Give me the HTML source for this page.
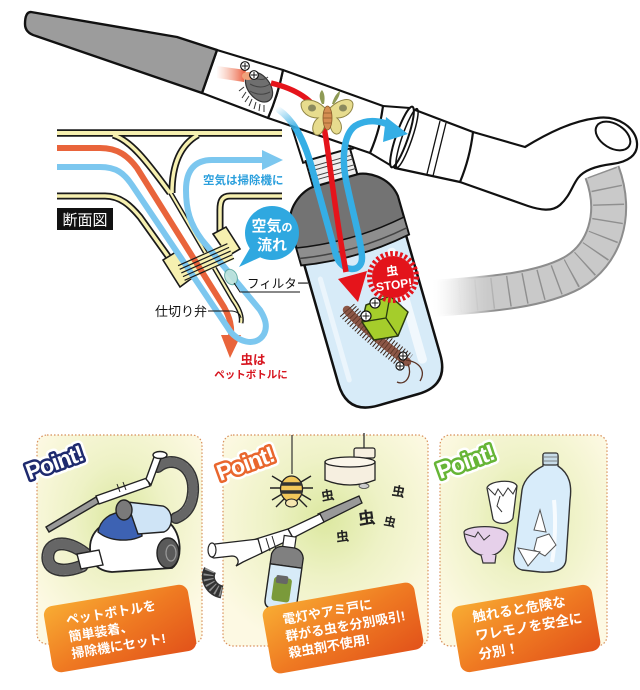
<!DOCTYPE html>
<html><head><meta charset="utf-8"><style>
html,body{margin:0;padding:0;background:#fff;width:640px;height:690px;overflow:hidden}
svg{display:block}
text{font-family:"Liberation Sans","Noto Sans CJK JP",sans-serif}
</style></head><body>
<svg width="640" height="690" viewBox="0 0 640 690" xmlns="http://www.w3.org/2000/svg">
<defs>
<linearGradient id="hoseE" gradientUnits="userSpaceOnUse" x1="430" y1="0" x2="495" y2="0"><stop offset="0" stop-color="#fff" stop-opacity="0"/><stop offset="1" stop-color="#8d8d8d"/></linearGradient>
<linearGradient id="hoseG" gradientUnits="userSpaceOnUse" x1="430" y1="0" x2="495" y2="0"><stop offset="0" stop-color="#fff" stop-opacity="0"/><stop offset="1" stop-color="#c9c9c9"/></linearGradient>
<linearGradient id="hoseR" gradientUnits="userSpaceOnUse" x1="440" y1="0" x2="510" y2="0"><stop offset="0" stop-color="#fff" stop-opacity="0"/><stop offset="1" stop-color="#8f8f8f"/></linearGradient>
<linearGradient id="blueFade" gradientUnits="userSpaceOnUse" x1="279" y1="106" x2="293" y2="132"><stop offset="0" stop-color="#35aee5" stop-opacity="0"/><stop offset="1" stop-color="#35aee5"/></linearGradient>
<linearGradient id="redFade" gradientUnits="userSpaceOnUse" x1="216" y1="0" x2="246" y2="0"><stop offset="0" stop-color="#f39a7a" stop-opacity="0"/><stop offset="1" stop-color="#ea5a3c"/></linearGradient>
<radialGradient id="pbg" cx="0.5" cy="0.4" r="0.62"><stop offset="0" stop-color="#dce8a0"/><stop offset="0.45" stop-color="#eef2c6"/><stop offset="1" stop-color="#fdf9e3"/></radialGradient>
<linearGradient id="lab" x1="0" y1="0" x2="1" y2="1"><stop offset="0" stop-color="#f8ac33"/><stop offset="0.5" stop-color="#ef7a22"/><stop offset="1" stop-color="#e2521a"/></linearGradient>
</defs>

<!-- ============ TOP ILLUSTRATION ============ -->
<!-- hose -->
<path d="M602,172 C618,215 604,255 572,273 C542,289 500,294 425,299" fill="none" stroke="url(#hoseE)" stroke-width="37"/>
<path d="M602,172 C618,215 604,255 572,273 C542,289 500,294 425,299" fill="none" stroke="url(#hoseG)" stroke-width="33"/>
<path d="M602,172 C618,215 604,255 572,273 C542,289 500,294 425,299" fill="none" stroke="url(#hoseR)" stroke-width="31" stroke-dasharray="1.4 15"/>

<!-- grip -->
<path d="M473,132 L525,147 C548,133 572,121 597,118 C618,115 636,128 637,143 C638,155 628,162 612,164 C596,166 584,170 578,178 C572,186 570,196 560,205 C552,212 540,210 528,206 L460,182 Z" fill="#fff" stroke="#111" stroke-width="2.2" stroke-linejoin="round"/>
<ellipse cx="613" cy="136" rx="19" ry="12" transform="rotate(32 613 136)" fill="#fff" stroke="#111" stroke-width="2"/>
<!-- seg2b -->
<path d="M410,108 L473,132 Q470,158 460,182 L395,168 Z" fill="#fff" stroke="#111" stroke-width="2.2" stroke-linejoin="round"/>
<path d="M440,121 L427,174 M446,123 L433,176" stroke="#111" stroke-width="1.3"/>
<!-- seg between -->
<path d="M383,106 L410,108 L395,168 L370,153 Z" fill="#fff" stroke="#111" stroke-width="2" stroke-linejoin="round"/>
<ellipse cx="402" cy="137" rx="6" ry="32" transform="rotate(19 402 137)" fill="#fff" stroke="#111" stroke-width="2"/>
<ellipse cx="407" cy="138" rx="5" ry="31" transform="rotate(19 407 138)" fill="none" stroke="#111" stroke-width="1.5"/>

<!-- bottle connector (under tube) -->
<g transform="translate(354,246) rotate(-16)">
<path d="M-27,-130 L27,-130 L26,-94 L-26,-94 Z" fill="#fff" stroke="#111" stroke-width="2"/>
</g>

<!-- tube segments -->
<path d="M283,70 L383,106 Q380,130 370,153 L268,118 Q278,95 283,70 Z" fill="#fff" stroke="#111" stroke-width="2.2" stroke-linejoin="round"/>
<path d="M217,50 L283,70 Q278,95 268,118 L202,93 Z" fill="#fff" stroke="#111" stroke-width="2.2" stroke-linejoin="round"/>
<!-- nozzle -->
<path d="M31,12 L177,37 L217,50 L202,93 L36,36 Q25,33 25,24 Q25,12 31,12 Z" fill="#9c9c9c" stroke="#111" stroke-width="2.4" stroke-linejoin="round"/>

<!-- bottle -->
<g transform="translate(354,246) rotate(-16)">
<rect x="-23" y="-95" width="46" height="28" fill="#efefef" stroke="#111" stroke-width="2"/>
<path d="M-23,-88 H23 M-23,-84 H23 M-23,-78 H23 M-23,-74 H23" stroke="#444" stroke-width="1"/>
<path d="M-53,0 L53,0 L53,128 Q53,160 21,160 L-21,160 Q-53,160 -53,128 Z" fill="#d7ebf8" stroke="#111" stroke-width="2.5"/>
<rect x="30" y="12" width="9" height="120" rx="4" fill="#fff" opacity="0.65"/>
<rect x="-44" y="20" width="5" height="110" rx="2.5" fill="#fff" opacity="0.5"/>
<path d="M-56,4 L-56,-36 C-53,-58 -32,-68 -23,-68 L23,-68 C32,-68 53,-58 56,-36 L56,4 Q0,14 -56,4 Z" fill="#737373" stroke="#111" stroke-width="2.2"/>
<path d="M-56,-14 Q0,-4 56,-14 L56,4 Q0,14 -56,4 Z" fill="#8e8e8e" stroke="#111" stroke-width="1.5"/>
<path d="M-56,-3 Q0,7 56,-3" fill="none" stroke="#444" stroke-width="1.5"/>
</g>

<!-- centipede -->
<path d="M347,310 C360,325 385,345 407,362" fill="none" stroke="#3b2418" stroke-width="19" stroke-dasharray="1 2.3"/>
<path d="M347,310 C360,325 385,345 407,362" fill="none" stroke="#8b5646" stroke-width="8.5" stroke-linecap="round"/>
<path d="M347,310 C360,325 385,345 407,362" fill="none" stroke="#5a3426" stroke-width="8.5" stroke-dasharray="0.8 3"/>
<path d="M406,360 C420,362 426,371 420,381 M408,364 C413,376 405,386 397,382" fill="none" stroke="#5a3426" stroke-width="1.3"/>
<circle cx="403" cy="356" r="4" fill="#fff" stroke="#111" stroke-width="1.2"/><path d="M400,356 H406 M403,353 V359" stroke="#111" stroke-width="1"/>
<circle cx="400" cy="366" r="4" fill="#fff" stroke="#111" stroke-width="1.2"/><path d="M397,366 H403 M400,363 V369" stroke="#111" stroke-width="1"/>
<!-- green cube -->
<path d="M366,305 L390,296 L408,312 L398,336 L374,340 L362,322 Z" fill="#a5cd2b" stroke="#2a3a10" stroke-width="1.5" stroke-linejoin="round"/>
<path d="M390,296 L386,318 L398,336 M386,318 L362,322" fill="none" stroke="#2a3a10" stroke-width="1.3"/>
<path d="M382,297 l3,-7 l2,6 l3,-8 l2,8 l3,-6 l1,7" fill="#5e8a1e"/>
<circle cx="375" cy="303" r="5" fill="#fff" stroke="#111" stroke-width="1.2"/><path d="M371.5,303 H378.5 M375,299.5 V306.5" stroke="#111" stroke-width="1"/>
<circle cx="366" cy="316" r="5" fill="#fff" stroke="#111" stroke-width="1.2"/><path d="M362.5,316 H369.5 M366,312.5 V319.5" stroke="#111" stroke-width="1"/>

<!-- red streak + pill bug -->
<path d="M217,66 L246,70 L244,82 L217,78 Z" fill="url(#redFade)"/>
<path d="M246,92 l-4,6 M249,96 l-4,6 M252,99 l-3,7 M256,102 l-2,7 M260,104 l-1,7 M264,105 l0,7 M244,87 l-5,4" stroke="#333" stroke-width="1"/>
<ellipse cx="259" cy="87" rx="11" ry="17" transform="rotate(-38 259 87)" fill="#6f6f6f" stroke="#333" stroke-width="1.2"/>
<path d="M252,77 Q262,82 268,77 M250,84 Q261,90 270,84 M250,91 Q260,97 270,92" fill="none" stroke="#444" stroke-width="1"/>
<ellipse cx="248" cy="76" rx="6" ry="4" fill="#f0a27a"/>
<circle cx="245" cy="66" r="4.3" fill="#fff" stroke="#111" stroke-width="1.2"/><path d="M242,66 H248 M245,63 V69" stroke="#111" stroke-width="1"/>
<circle cx="254" cy="75" r="4.3" fill="#fff" stroke="#111" stroke-width="1.2"/><path d="M251,75 H257 M254,72 V78" stroke="#111" stroke-width="1"/>

<!-- blue loop -->
<path d="M279,110 C296,122 306,145 313,172 L336,255 C341,272 362,274 362,258 C362,245 352,210 346,180 C342,160 343,135 355,126 C368,118 383,121 393,127" fill="none" stroke="url(#blueFade)" stroke-width="6.5" stroke-linecap="round"/>
<path d="M386,117 L408,134 L383,142 Z" fill="#35aee5"/>
<!-- red arrow -->
<path d="M271,83 C292,88 312,98 321,116 C328,136 331,190 346,272" fill="none" stroke="#e5141b" stroke-width="5.5"/>
<path d="M338,279 L367,271 L358,302 Z" fill="#e5141b"/>

<!-- moth -->
<path d="M322,104 C318,96 320,92 322,90 C325,94 325,99 324,104 Z M332,104 C334,96 338,92 340,91 C340,96 337,100 334,104 Z" fill="#8e9a55"/>
<path d="M325,108 C315,98 302,98 301,104 C301,112 308,118 318,118 C310,124 312,136 318,135 C323,134 325,126 326,120 Z" fill="#e7dc8e" stroke="#8f8444" stroke-width="1"/>
<path d="M330,108 C340,98 352,97 353,104 C353,112 346,118 337,118 C344,124 342,135 336,134 C331,133 330,126 329,120 Z" fill="#e7dc8e" stroke="#8f8444" stroke-width="1"/>
<ellipse cx="312" cy="108" rx="4" ry="3.5" fill="#8b8a5e"/><ellipse cx="343" cy="108" rx="4" ry="3.5" fill="#8b8a5e"/>
<ellipse cx="327.5" cy="118" rx="4.5" ry="12" fill="#d58e52" stroke="#8a5a2a" stroke-width="0.8"/>
<path d="M323.5,113 H331.5 M323.5,118 H331.5 M324,123 H331" stroke="#8a5a2a" stroke-width="0.8"/>

<!-- starburst -->
<circle cx="393" cy="277" r="21" fill="#e3131b"/>
<circle cx="393" cy="277" r="23.5" fill="none" stroke="#e3131b" stroke-width="5" stroke-dasharray="2.6 2.3"/>
<g transform="rotate(-8 393 277)">
<text x="393" y="275" text-anchor="middle" font-size="12" font-weight="bold" fill="#fff">虫</text>
<text x="393" y="289" text-anchor="middle" font-size="12" font-weight="bold" fill="#fff">STOP!</text>
</g>

<!-- ===== cross-section ===== -->
<g fill="none" stroke-linecap="butt" stroke-linejoin="round">
<path d="M57,133 L282,133" stroke="#1a1a1a" stroke-width="7.5"/>
<path d="M113,135 C130,140 146,160 170,193" stroke="#1a1a1a" stroke-width="7"/>
<path d="M198,135 C180,145 172,165 172,193" stroke="#1a1a1a" stroke-width="7"/>
<path d="M170,192 L233,300 Q243,314 241,323" stroke="#1a1a1a" stroke-width="5"/>
<path d="M57,196 L105,196 C120,196 130,205 140,217 L170,259" stroke="#1a1a1a" stroke-width="7"/>
<path d="M282,196 L230,196 C222,196 220,201 220,210 L220,232" stroke="#1a1a1a" stroke-width="7"/>
<path d="M57,133 L282,133" stroke="#f6f0b0" stroke-width="4"/>
<path d="M113,135 C130,140 146,160 170,193" stroke="#f6f0b0" stroke-width="3.5"/>
<path d="M198,135 C180,145 172,165 172,193" stroke="#f6f0b0" stroke-width="3.5"/>
<path d="M170,192 L233,300 Q243,314 241,323" stroke="#f6f0b0" stroke-width="2.2"/>
<path d="M57,196 L105,196 C120,196 130,205 140,217 L170,259" stroke="#f6f0b0" stroke-width="3.5"/>
<path d="M282,196 L230,196 C222,196 220,201 220,210 L220,232" stroke="#f6f0b0" stroke-width="3.5"/>
</g>
<path d="M163,260 L176,252 L192,278 L180,287 Z" fill="#f6f0b0" stroke="#1a1a1a" stroke-width="1.6"/>
<path d="M213,234 L226,227 L240,249 L228,256 Z" fill="#f6f0b0" stroke="#1a1a1a" stroke-width="1.6"/>
<g transform="translate(206,262) rotate(-24)"><rect x="-27" y="-9" width="54" height="18" fill="#f6f0b0"/></g>

<!-- flows -->
<path d="M57,148 L100,148 C118,148 128,156 137,168 L224,307 C230,318 232,326 231,338" fill="none" stroke="#e9643b" stroke-width="6"/>
<path d="M221,335 L241,335 L230,358 Z" fill="#e9643b"/>
<path d="M57,167 L100,167 C116,167 124,173 132,185 L228,328 C236,342 256,348 264,334 C268,326 265,318 260,310 L202,240 C190,224 186,210 186,190 C186,170 195,160 212,160 L265,160" fill="none" stroke="#7cc7ef" stroke-width="6"/>
<path d="M262,150 L283,160 L262,170 Z" fill="#7cc7ef"/>

<g transform="translate(206,262) rotate(-24)" stroke="#1a1a1a" stroke-width="1.2">
<path d="M-27,-8 H27 M-27,-4 H27 M-27,0 H27 M-27,4 H27 M-27,8 H27"/>
</g>
<ellipse cx="231" cy="277" rx="6" ry="8" transform="rotate(-25 231 277)" fill="#bfe3dc" stroke="#5aa8a0" stroke-width="1" opacity="0.9"/>
<path d="M234,283 L240,292 L300,292" fill="none" stroke="#111" stroke-width="1"/>
<path d="M208,311 L232,311 Q240,312 241,318" fill="none" stroke="#111" stroke-width="1"/>

<!-- labels -->
<text x="203" y="184" font-size="11.5" font-weight="bold" fill="#2b9fdc">空気は掃除機に</text>
<rect x="57" y="208" width="56" height="22" fill="#111"/>
<text x="85" y="225" text-anchor="middle" font-size="15" fill="#fff">断面図</text>
<text x="247" y="288" font-size="12.5" fill="#111">フィルター</text>
<text x="155" y="316" font-size="13" fill="#111">仕切り弁</text>
<text x="253" y="364" text-anchor="middle" font-size="12.5" font-weight="bold" fill="#d7151f">虫は</text>
<text x="251" y="378" text-anchor="middle" font-size="10.5" font-weight="bold" fill="#d7151f">ペットボトルに</text>

<!-- bubble -->
<circle cx="272" cy="233" r="27" fill="#2fa8e0"/>
<path d="M250,248 L239,267 L263,256 Z" fill="#2fa8e0"/>
<text x="272" y="231" text-anchor="middle" font-size="15" font-weight="bold" fill="#fff">空気<tspan font-size="11">の</tspan></text>
<text x="272" y="250" text-anchor="middle" font-size="15" font-weight="bold" fill="#fff">流れ</text>

<!-- ============ PANELS ============ -->
<rect x="37" y="435" width="165" height="209" rx="10" fill="url(#pbg)" stroke="#d88f5a" stroke-width="1.2" stroke-dasharray="1.5 2"/>
<rect x="223" y="435" width="205" height="211" rx="10" fill="url(#pbg)" stroke="#d88f5a" stroke-width="1.2" stroke-dasharray="1.5 2"/>
<rect x="440" y="435" width="167" height="211" rx="10" fill="url(#pbg)" stroke="#d88f5a" stroke-width="1.2" stroke-dasharray="1.5 2"/>

<!-- panel 1 vacuum -->
<g stroke-linecap="round" fill="none">
<path d="M158,467 C172,455 195,465 193,492 C192,506 186,514 176,518" stroke="#333" stroke-width="12"/>
<path d="M158,467 C172,455 195,465 193,492 C192,506 186,514 176,518" stroke="#8f8f8f" stroke-width="9"/>
<path d="M158,467 C172,455 195,465 193,492 C192,506 186,514 176,518" stroke="#666" stroke-width="9" stroke-dasharray="1.2 4"/>
<path d="M88,556 C70,540 50,540 48,555 C46,570 62,574 82,566" stroke="#333" stroke-width="13"/>
<path d="M88,556 C70,540 50,540 48,555 C46,570 62,574 82,566" stroke="#8f8f8f" stroke-width="10"/>
<path d="M88,556 C70,540 50,540 48,555 C46,570 62,574 82,566" stroke="#666" stroke-width="10" stroke-dasharray="1.2 4"/>
</g>
<path d="M90,548 C90,528 110,516 135,516 L165,520 C182,528 184,560 172,568 L112,572 C97,571 90,562 90,548 Z" fill="#fff" stroke="#222" stroke-width="1.8"/>
<path d="M98,532 C100,520 110,512 124,512 L140,514 L142,536 C130,542 110,542 98,532 Z" fill="#3d62b3" stroke="#222" stroke-width="1.4"/>
<path d="M127,502 L163,506 C174,510 174,528 164,532 L138,534 Z" fill="#cfe4f6" stroke="#222" stroke-width="1.4"/>
<ellipse cx="124" cy="510" rx="8" ry="10" fill="#7a7a7a" stroke="#222" stroke-width="1.4"/>
<ellipse cx="168" cy="553" rx="11" ry="15" fill="#5a5a5a" stroke="#222" stroke-width="1.4"/>
<ellipse cx="171" cy="553" rx="5" ry="8" fill="none" stroke="#999" stroke-width="1.2"/>
<path d="M77,554 L99,550 L103,565 L81,569 Z" fill="#fff" stroke="#222" stroke-width="1.4"/>
<path d="M46,527 L96,497 L99,503 L49,532 Z" fill="#999" stroke="#222" stroke-width="1.4"/>
<path d="M96,496 L147,478 L150,486 L99,504 Z" fill="#fff" stroke="#222" stroke-width="1.4"/>
<path d="M146,479 L154,457 L161,458 L151,485 Z" fill="#fff" stroke="#222" stroke-width="1.4"/>
<ellipse cx="160" cy="455" rx="7" ry="3.5" fill="#fff" stroke="#222" stroke-width="1.4"/>
<path d="M117,484 L120,492 M123,482 L126,490" stroke="#222" stroke-width="1"/>

<!-- panel 2 lamp, spider, bugs -->
<path d="M364,433 V449" stroke="#333" stroke-width="1.3"/>
<rect x="354" y="448" width="21" height="10" rx="2" fill="#f6efe0" stroke="#222" stroke-width="1.2"/>
<path d="M325,462 L325,480 Q350,490 375,480 L375,462 Z" fill="#f6efe0" stroke="#222" stroke-width="1.3"/>
<ellipse cx="350" cy="462" rx="25" ry="5" fill="#fbf6ea" stroke="#222" stroke-width="1.3"/>
<ellipse cx="364" cy="486" rx="5" ry="2.5" fill="#ccc" stroke="#444" stroke-width="0.8"/>
<path d="M292,435 V474" stroke="#333" stroke-width="1.2"/>
<g stroke="#222" stroke-width="1.4" fill="none">
<path d="M282,482 L272,476 M281,488 L270,488 M282,494 L272,500 M284,499 L276,507 M301,482 L311,476 M302,488 L313,488 M301,494 L311,500 M299,499 L307,507"/>
</g>
<ellipse cx="291.5" cy="489" rx="11" ry="13" fill="#f2c75a" stroke="#222" stroke-width="1.3"/>
<path d="M281,484 H302 M280.5,492 H302.5" stroke="#333" stroke-width="3.5"/>
<ellipse cx="291.5" cy="503" rx="6" ry="4" fill="#f5e6b0" stroke="#222" stroke-width="1.1"/>
<g font-weight="bold" fill="#222">
<text x="321" y="500" font-size="13" transform="rotate(-10 328 495)">虫</text>
<text x="392" y="496" font-size="13" transform="rotate(10 398 491)">虫</text>
<text x="358" y="524" font-size="17" transform="rotate(-8 367 517)">虫</text>
<text x="384" y="526" font-size="12" transform="rotate(12 390 521)">虫</text>
<text x="336" y="541" font-size="13" transform="rotate(-6 343 536)">虫</text>
</g>
<!-- panel 2 vacuum -->
<path d="M210,570 C205,580 212,590 222,592" fill="none" stroke="#333" stroke-width="13"/>
<path d="M210,570 C205,580 212,590 222,592" fill="none" stroke="#8f8f8f" stroke-width="10" stroke-dasharray="1.5 3"/>
<path d="M318,514 L359,496 L362,503 L322,523 Z" fill="#999" stroke="#222" stroke-width="1.3"/>
<path d="M320,514 L288,529 L293,538 L324,522 Z" fill="#fff" stroke="#222" stroke-width="1.3"/>
<path d="M288,529 L256,539 L262,553 L293,538 Z" fill="#fff" stroke="#222" stroke-width="1.3"/>
<path d="M258,539 L215,544 C208,545 206,556 214,558 L232,556 C238,556 240,562 236,566 L243,562 L262,553 Z" fill="#fff" stroke="#222" stroke-width="1.3"/>
<ellipse cx="212" cy="550" rx="4" ry="7" fill="#fff" stroke="#222" stroke-width="1.2"/>
<path d="M266,538 L270,551 M272,536 L276,549" stroke="#222" stroke-width="1"/>
<g transform="translate(286,566) rotate(8)">
<rect x="-6" y="-30" width="12" height="12" fill="#fff" stroke="#222" stroke-width="1.2"/>
<path d="M-16,0 L-16,-10 Q-14,-18 -6,-19 L6,-19 Q14,-18 16,-10 L16,0 Z" fill="#808080" stroke="#222" stroke-width="1.3"/>
<path d="M-16,0 L16,0 L16,36 Q16,44 8,44 L-8,44 Q-16,44 -16,36 Z" fill="#d7ebf8" stroke="#222" stroke-width="1.4"/>
<rect x="-10" y="12" width="18" height="24" rx="3" fill="#7a9a3a"/>
<rect x="-8" y="10" width="12" height="8" rx="2" fill="#666"/>
</g>

<!-- panel 3 -->
<path d="M543,455 L558,456 L558,466 C570,474 572,486 570,500 L566,560 C565,570 555,573 540,572 L522,570 C515,568 513,562 514,555 L522,490 C524,478 535,470 543,466 Z" fill="#d8ecfa" stroke="#333" stroke-width="1.4"/>
<rect x="543" y="453" width="15" height="12" rx="2" fill="#c8dce8" stroke="#333" stroke-width="1.2"/>
<path d="M544,457 H557 M544,461 H557" stroke="#666" stroke-width="0.8"/>
<path d="M554,500 C556,520 555,545 552,562" stroke="#fff" stroke-width="4" fill="none" opacity="0.8"/>
<path d="M540,510 L534,530 L546,532 Z" fill="#fff" stroke="#555" stroke-width="1"/>
<path d="M537,538 L549,534 L556,545 L545,556 L534,550 Z" fill="#fff" stroke="#555" stroke-width="1"/>
<path d="M518,548 L540,552 L528,566 Z" fill="#fff" stroke="#555" stroke-width="1"/>
<path d="M487,488 C488,481 514,478 517,486 L513,518 C510,525 496,525 493,519 Z" fill="#fff" stroke="#333" stroke-width="1.3"/>
<path d="M488,488 L495,495 L498,489 L503,496 L508,488 L513,494 L517,486" fill="none" stroke="#333" stroke-width="1"/>
<path d="M500,496 L497,506 L502,512" fill="none" stroke="#333" stroke-width="1"/>
<path d="M464,532 C466,525 504,524 508,534 C506,550 496,556 488,556 C474,556 465,546 464,532 Z" fill="#e6d0ea" stroke="#333" stroke-width="1.3"/>
<path d="M481,555 L483,563 L495,563 L496,555" fill="#e6d0ea" stroke="#333" stroke-width="1.2"/>
<path d="M465,534 L475,537 L478,532 L484,540 L490,535" fill="none" stroke="#333" stroke-width="1"/>

<!-- Point! badges -->
<g font-size="23" font-weight="bold" text-anchor="middle" stroke-linejoin="round" letter-spacing="-1">
<g transform="translate(57,470) rotate(-20)">
<text x="0" y="0" fill="#fff" stroke="#fff" stroke-width="10">Point!</text>
<text x="0" y="0" fill="#fff" stroke="#1e2a6e" stroke-width="5" paint-order="stroke">Point!</text>
</g>
<g transform="translate(248,471) rotate(-20)">
<text x="0" y="0" fill="#fff" stroke="#fff" stroke-width="10">Point!</text>
<text x="0" y="0" fill="#fff" stroke="#e9662d" stroke-width="5" paint-order="stroke">Point!</text>
</g>
<g transform="translate(468,469) rotate(-20)">
<text x="0" y="0" fill="#fff" stroke="#fff" stroke-width="10">Point!</text>
<text x="0" y="0" fill="#fff" stroke="#66b536" stroke-width="5" paint-order="stroke">Point!</text>
</g>
</g>

<!-- orange labels -->
<g transform="translate(120,628) rotate(-9.5)">
<rect x="-73" y="-33" width="146" height="67" rx="9" fill="url(#lab)"/>
<g font-size="13" font-weight="bold" fill="#fff">
<text x="-52" y="-12">ペットボトルを</text>
<text x="-52" y="5">簡単装着、</text>
<text x="-52" y="22">掃除機にセット!</text>
</g>
</g>
<g transform="translate(343,628) rotate(-10)">
<rect x="-77" y="-34" width="154" height="68" rx="9" fill="url(#lab)"/>
<g font-size="13" font-weight="bold" fill="#fff">
<text x="-58" y="-14">電灯やアミ戸に</text>
<text x="-58" y="3">群がる虫を分別吸引!</text>
<text x="-58" y="20">殺虫剤不使用!</text>
</g>
</g>
<g transform="translate(526,628) rotate(-9.7)">
<rect x="-71" y="-33" width="142" height="67" rx="9" fill="url(#lab)"/>
<g font-size="13.5" font-weight="bold" fill="#fff">
<text x="-51" y="-15">触れると危険な</text>
<text x="-51" y="4">ワレモノを安全に</text>
<text x="-51" y="23">分別！</text>
</g>
</g>
</svg>
</body></html>
